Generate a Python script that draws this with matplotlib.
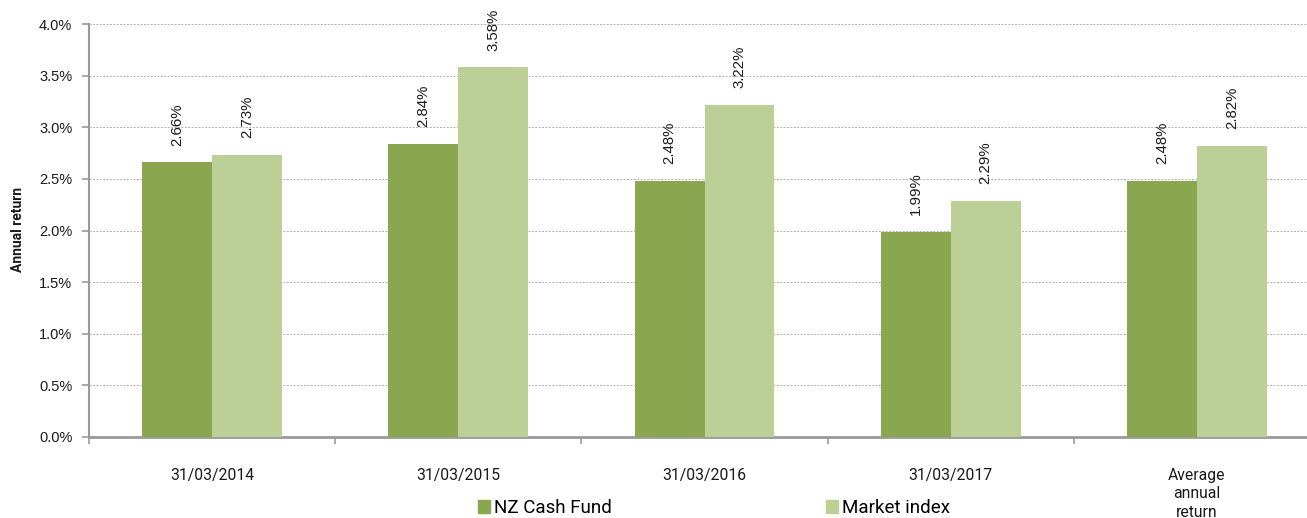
import matplotlib
matplotlib.use("Agg")
import matplotlib.pyplot as plt
import numpy as np
from matplotlib.patches import Patch

categories = ["31/03/2014", "31/03/2015", "31/03/2016", "31/03/2017", "Average\nannual\nreturn"]
nz_cash = [2.66, 2.84, 2.48, 1.99, 2.48]
market = [2.73, 3.58, 3.22, 2.29, 2.82]
series_names = ["NZ Cash Fund", "Market index"]
yticks = [0.0, 0.5, 1.0, 1.5, 2.0, 2.5, 3.0, 3.5, 4.0]

c_dark = "#8aa64f"
c_light = "#bbcf97"
arial = ['Liberation Sans', 'DejaVu Sans']

plt.rcParams['font.family'] = ['Roboto', 'DejaVu Sans']
fig = plt.figure(figsize=(13.07, 5.18), dpi=100)
W, H = 1307, 518
ax = fig.add_axes([89 / W, (H - 437) / H, (1320 - 89) / W, (437 - 24) / H])

x = np.arange(len(categories))
bw = 0.284
b1 = ax.bar(x - bw / 2, nz_cash, bw, color=c_dark, zorder=3)
b2 = ax.bar(x + bw / 2, market, bw, color=c_light, zorder=3)

for bars, vals in ((b1, nz_cash), (b2, market)):
    for r, v in zip(bars, vals):
        ax.annotate(f"{v:.2f}%", (r.get_x() + r.get_width() / 2, v),
                    xytext=(0, 12), textcoords="offset points",
                    rotation=90, ha="center", va="bottom", fontsize=10.8,
                    family=arial, color="#1a1a1a")

ax.set_xlim(-0.5, len(categories) - 0.5)
ax.set_ylim(0, 4.0)
ax.set_yticks(yticks)
ax.set_yticklabels([f"{t:.1f}%" for t in yticks], fontsize=10.5, color="#1a1a1a", family=arial)
ax.yaxis.grid(True, color="#b0b0b0", linestyle=(0, (2, 1.5)), linewidth=0.7, zorder=0)

ax.set_xticks(x)
ax.set_xticklabels(categories, fontsize=11.3, color="#1a1a1a", linespacing=1.3)
ax.set_xticks(np.arange(len(categories)) - 0.5, minor=True)
ax.tick_params(axis="x", which="major", length=0, pad=22)
ax.tick_params(axis="x", which="minor", length=5, width=1.2, color="#999999", direction="out")
ax.tick_params(axis="y", length=5, width=1.2, color="#999999", pad=7)

for s in ("top", "right"):
    ax.spines[s].set_visible(False)
ax.spines["left"].set_color("#999999")
ax.spines["left"].set_linewidth(1.5)
ax.spines["bottom"].set_color("#999999")
ax.spines["bottom"].set_linewidth(2)

fig.text(18 / W, 1 - 230 / H, "Annual return", rotation=90, ha="center", va="center",
         fontsize=10, fontweight="bold", color="#1a1a1a")

handles = [Patch(color=c_dark), Patch(color=c_light)]
fig.legend(handles, series_names, loc="center", bbox_to_anchor=(714 / W, 1 - 508 / H),
           ncol=2, frameon=False, fontsize=13.5, handlelength=0.65, handleheight=0.65,
           handletextpad=0.2, columnspacing=11.4, borderpad=0)

fig.savefig("out.png", dpi=100)
